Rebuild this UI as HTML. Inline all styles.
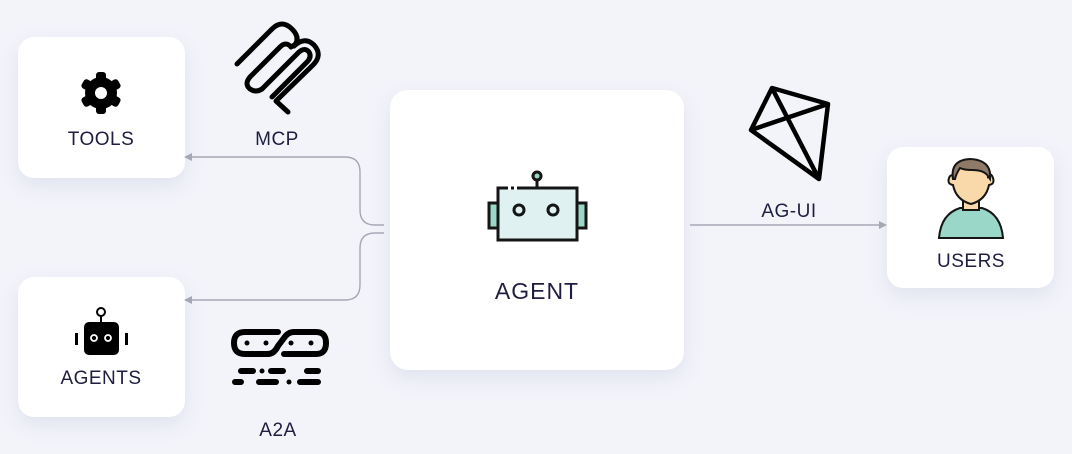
<!DOCTYPE html>
<html><head><meta charset="utf-8"><style>
html,body{margin:0;padding:0;}
body{width:1072px;height:454px;background:#f3f4fa;overflow:hidden;font-family:"Liberation Sans",sans-serif;}
svg{display:block}
</style></head><body>
<svg width="1072" height="454" viewBox="0 0 1072 454" xmlns="http://www.w3.org/2000/svg">
<defs>
<filter id="sh" x="-30%" y="-30%" width="160%" height="160%"><feDropShadow dx="0" dy="8" stdDeviation="10" flood-color="#c8cbe0" flood-opacity="0.45"/></filter>
</defs>
<rect x="0" y="0" width="1072" height="454" rx="8" fill="#f3f4fa"/>
<rect x="18" y="37" width="167" height="141" rx="16" fill="#fff" filter="url(#sh)"/>
<rect x="18" y="277" width="167" height="140" rx="16" fill="#fff" filter="url(#sh)"/>
<rect x="390" y="90" width="294" height="280" rx="18" fill="#fff" filter="url(#sh)"/>
<rect x="887" y="147" width="167" height="141" rx="16" fill="#fff" filter="url(#sh)"/>
<g fill="none" stroke="#a6a7b4" stroke-width="1.4">
<path d="M384 225 L375 225 Q360 225 360 210 L360 172 Q360 157 345 157 L190 157"/>
<path d="M384 233 L375 233 Q360 233 360 248 L360 285 Q360 300 345 300 L190 300"/>
<path d="M690 225 L880 225"/>
</g>
<g fill="#a6a7b4">
<path d="M184 157 L192 153 L192 161Z"/>
<path d="M184 300 L192 296 L192 304Z"/>
<path d="M887 225 L879 221 L879 229Z"/>
</g>
<g fill="#1f1d40" font-size="19" text-anchor="middle" letter-spacing="0.5">
<text x="101" y="145">TOOLS</text>
<text x="101" y="384">AGENTS</text>
<text x="277" y="145">MCP</text>
<text x="278" y="436">A2A</text>
<text x="537" y="299" font-size="23" letter-spacing="1">AGENT</text>
<text x="789" y="217">AG-UI</text>
<text x="971" y="267">USERS</text>
</g>
<g transform="translate(101,93)" fill="#000">
<g id="t"><rect x="-5" y="-21" width="10" height="10" rx="3"/></g>
<use href="#t" transform="rotate(60)"/><use href="#t" transform="rotate(120)"/><use href="#t" transform="rotate(180)"/><use href="#t" transform="rotate(240)"/><use href="#t" transform="rotate(300)"/>
<circle r="16"/>
<circle r="6" fill="#fff"/>
</g>
<g>
<circle cx="101" cy="312" r="4" fill="none" stroke="#000" stroke-width="2"/>
<line x1="101" y1="316" x2="101" y2="322" stroke="#000" stroke-width="2"/>
<rect x="84" y="322" width="35" height="33" rx="5" fill="#000"/>
<rect x="75" y="333" width="3" height="12" fill="#000"/>
<rect x="125" y="333" width="3" height="12" fill="#000"/>
<circle cx="94" cy="338" r="3" fill="none" stroke="#fff" stroke-width="1.8"/>
<circle cx="108" cy="338" r="3" fill="none" stroke="#fff" stroke-width="1.8"/>
</g>
<!-- MCP icon -->
<g fill="none" stroke="#000" stroke-width="5" stroke-linecap="round" stroke-linejoin="round">
<path d="M237 64 L272 29 Q282 19 292 29 Q301 38 294 46 Q305 36 314 45 Q323 55 313 65 L276 101 L288 112"/>
<path d="M250 77 L280 47 Q286 41 291 47 L296 44"/>
<path d="M262 89 L299 52 Q305 47 309 52 Q312 57 307 62 L272 97"/>
<path d="M250 77 Q244 84 250 89 Q256 93 262 89"/>
</g>
<g fill="none" stroke="#000" stroke-width="6" stroke-linecap="round">
<path d="M278 332 L245 332 Q234 332 234 343 Q234 354 245 354 L268 354 Q274 354 278 346 L284 338 Q288 332 294 332 L316 332 Q326 332 326 343 Q326 354 316 354 L284 354"/>
<path d="M241 371 L253 371 M271 371 L283 371 M307 371 L318 371 M235 382 L241 382 M259 382 L276 382 M300 382 L318 382"/>
</g>
<g fill="#000">
<circle cx="247" cy="343" r="2.5"/><circle cx="266" cy="343" r="2.5"/><circle cx="291" cy="343" r="2.5"/><circle cx="311" cy="343" r="2.5"/>
<circle cx="262" cy="371" r="2.5"/><circle cx="289" cy="382" r="2.5"/>
</g>
<g fill="none" stroke="#000" stroke-width="4.5" stroke-linejoin="round">
<path d="M772 88 L828 104 L819 179 L751 130 Z"/>
<path d="M772 88 L819 179 M751 130 L828 104"/>
</g>
<g stroke="#151515" stroke-width="3">
<rect x="489" y="203" width="9" height="25" fill="#9ad7c8"/>
<rect x="577" y="203" width="9" height="25" fill="#9ad7c8"/>
<rect x="498" y="188" width="79" height="52" fill="#dff1f1"/>
<line x1="537" y1="180" x2="537" y2="188"/>
<circle cx="537" cy="176" r="4" fill="#9ad7c8"/>
<circle cx="519" cy="210" r="5" fill="none"/>
<circle cx="553" cy="210" r="5" fill="none"/>
</g>
<g fill="#fff"><rect x="508" y="186" width="3" height="4"/><rect x="514" y="186" width="3" height="4"/></g>
<g stroke="#151515" stroke-width="2">
<path d="M939 238 Q941 214 960 208 L982 208 Q1001 214 1003 238 Z" fill="#9ad7c8"/>
<rect x="963" y="198" width="16" height="12" fill="#f9d8aa"/>
<path d="M953 185 Q947 184 949 178 Q951 173 955 177 L955 176 Q955 168 960 166 L983 166 Q988 168 988 176 Q991 172 993 178 Q995 184 989 185 Q986 200 971 204 Q956 200 953 185 Z" fill="#f9d8aa"/>
<path d="M953 179 Q950 160 970 159 Q992 160 990 179 L988 176 Q984 170 972 170 Q964 170 960 168 Q956 174 955 179 Z" fill="#8e7a66"/>
</g>
</svg>
</body></html>
